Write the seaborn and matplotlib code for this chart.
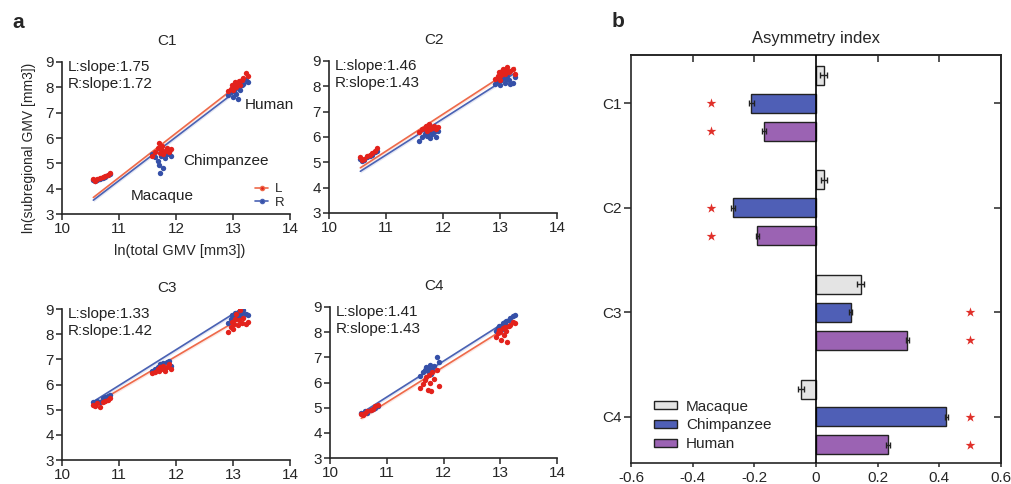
import numpy as np
import pandas as pd
import seaborn as sns
import matplotlib.pyplot as plt
from matplotlib.patches import Patch
from matplotlib.lines import Line2D

# ---- panel a : ln(total GMV) per subject, same for every component ----
total_gmv = [10.55, 10.58, 10.62, 10.66, 10.72, 10.76, 10.80, 10.84,
             11.58, 11.64, 11.68, 11.70, 11.72, 11.74, 11.76, 11.78, 11.80, 11.84, 11.88, 11.92,
             12.92, 12.96, 12.98, 13.00, 13.02, 13.04, 13.06, 13.08, 13.10, 13.12, 13.15, 13.18, 13.22, 13.26]

# ln(subregional GMV), left / right hemisphere
c1_left = [4.38, 4.32, 4.40, 4.42, 4.45, 4.50, 4.55, 4.62,
           5.30, 5.45, 5.60, 5.80, 5.40, 5.55, 5.70, 5.35, 5.50, 5.62, 5.45, 5.55,
           7.85, 7.95, 8.10, 7.90, 8.05, 8.20, 8.00, 8.15, 8.25, 8.10, 8.30, 8.35, 8.55, 8.45]
c1_right = [4.35, 4.30, 4.36, 4.40, 4.42, 4.46, 4.52, 4.56,
            5.35, 5.25, 5.10, 4.95, 4.60, 5.30, 5.40, 4.80, 5.20, 5.35, 5.45, 5.30,
            7.70, 7.80, 7.95, 7.60, 7.85, 8.00, 7.75, 7.55, 8.05, 7.90, 8.10, 8.15, 8.30, 8.20]
c2_left = [5.20, 5.10, 5.15, 5.25, 5.30, 5.35, 5.45, 5.55,
           6.20, 6.30, 6.35, 6.45, 6.25, 6.40, 6.50, 6.30, 6.35, 6.45, 6.30, 6.40,
           8.30, 8.40, 8.55, 8.25, 8.45, 8.60, 8.70, 8.50, 8.65, 8.75, 8.55, 8.60, 8.70, 8.50]
c2_right = [5.15, 5.05, 5.10, 5.20, 5.25, 5.30, 5.40, 5.45,
            5.85, 6.00, 6.10, 6.20, 6.05, 6.15, 6.25, 5.95, 6.10, 6.20, 6.00, 6.25,
            8.10, 8.20, 8.30, 8.05, 8.25, 8.35, 8.45, 8.15, 8.30, 8.40, 8.25, 8.10, 8.15, 8.35]
c3_left = [5.20, 5.15, 5.25, 5.10, 5.30, 5.35, 5.40, 5.45,
           6.45, 6.50, 6.60, 6.55, 6.70, 6.60, 6.65, 6.75, 6.55, 6.70, 6.80, 6.60,
           8.10, 8.30, 8.50, 8.20, 8.40, 8.60, 8.80, 8.35, 8.55, 8.95, 8.45, 8.65, 8.40, 8.50]
c3_right = [5.30, 5.25, 5.35, 5.30, 5.45, 5.50, 5.55, 5.60,
            6.55, 6.60, 6.70, 6.65, 6.80, 6.75, 6.70, 6.85, 6.65, 6.90, 6.95, 6.75,
            8.45, 8.60, 8.75, 8.55, 8.70, 8.85, 8.65, 8.80, 8.90, 8.70, 8.85, 8.95, 8.80, 8.75]
c4_left = [4.75, 4.70, 4.80, 4.85, 4.90, 4.95, 5.05, 5.10,
           5.80, 5.95, 6.10, 6.20, 5.70, 6.30, 6.00, 5.65, 6.40, 6.15, 6.50, 5.85,
           7.80, 7.95, 8.10, 8.00, 7.70, 8.15, 7.90, 8.20, 8.05, 7.60, 8.25, 8.30, 8.40, 8.35]
c4_right = [4.80, 4.75, 4.85, 4.80, 4.90, 4.95, 5.00, 5.05,
            6.25, 6.40, 6.50, 6.60, 6.45, 6.55, 6.70, 6.35, 6.50, 6.65, 7.00, 6.80,
            8.05, 8.15, 8.25, 8.20, 8.10, 8.35, 8.30, 8.40, 8.45, 8.25, 8.50, 8.55, 8.65, 8.70]

components = ['C1', 'C2', 'C3', 'C4']
slope_left = [1.75, 1.46, 1.33, 1.41]
slope_right = [1.72, 1.43, 1.42, 1.43]
intercept_left = [-14.81, -10.62, -8.84, -10.30]
intercept_right = [-14.60, -10.44, -9.66, -10.31]

# ---- panel b : asymmetry index ----
species = ['Macaque', 'Chimpanzee', 'Human']
ai_macaque = [0.025, 0.025, 0.145, -0.048]
ai_chimp = [-0.21, -0.27, 0.113, 0.423]
ai_human = [-0.168, -0.19, 0.296, 0.233]
se_macaque = [0.012, 0.010, 0.012, 0.010]
se_chimp = [0.008, 0.006, 0.005, 0.006]
se_human = [0.006, 0.006, 0.005, 0.006]
sig_macaque = [False, False, False, False]
sig_chimp = [True, True, True, True]
sig_human = [True, True, True, True]
star_x = [-0.34, -0.34, 0.5, 0.5]

sns.set_theme(style='ticks')
plt.rcParams['font.family'] = ['Liberation Sans', 'DejaVu Sans']
plt.rcParams['axes.linewidth'] = 1.2

red_pt, red_ln = '#e3221c', '#ee6a4a'
blue_pt, blue_ln = '#3550a8', '#4a62b4'

fig = plt.figure(figsize=(10.12, 4.84), dpi=100)
W, H = 1012, 484

def px_axes(left, top, right, bottom):
    return fig.add_axes([left / W, 1 - bottom / H, (right - left) / W, (bottom - top) / H])

boxes = [(62, 62, 290, 214), (329, 61, 557, 213), (62, 309, 290, 460), (330, 307, 557, 458)]
lefts = [c1_left, c2_left, c3_left, c4_left]
rights = [c1_right, c2_right, c3_right, c4_right]

x_arr = np.array(total_gmv)
x_line = np.array([x_arr.min(), x_arr.max()])
for i, box in enumerate(boxes):
    ax = px_axes(*box)
    df = pd.DataFrame({'x': total_gmv, 'L': lefts[i], 'R': rights[i]})
    sns.scatterplot(data=df, x='x', y='R', color=blue_pt, s=15, linewidth=0, ax=ax, zorder=3)
    sns.scatterplot(data=df, x='x', y='L', color=red_pt, s=15, linewidth=0, ax=ax, zorder=3)
    for b, a, c in [(slope_left[i], intercept_left[i], red_ln), (slope_right[i], intercept_right[i], blue_ln)]:
        y_line = a + b * x_line
        ax.fill_between(x_line, y_line - 0.07, y_line + 0.07, color=c, alpha=0.15, lw=0)
        ax.plot(x_line, y_line, color=c, lw=1.2, zorder=2)
    ax.set_xlim(10, 14)
    ax.set_ylim(3, 9)
    ax.set_xticks(range(10, 15))
    ax.set_yticks(range(3, 10))
    ax.set_xlabel('')
    ax.set_ylabel('')
    sns.despine(ax=ax)
    ax.tick_params(direction='out', length=4, width=1.1, labelsize=11, pad=2)
    ax.set_title(components[i], fontsize=11, x=0.46, pad=12)
    ax.text(0.025, 1.01, f'L:slope:{slope_left[i]:.2f}\nR:slope:{slope_right[i]:.2f}',
            transform=ax.transAxes, va='top', ha='left', fontsize=11, color='#222222')
    if i == 0:
        ax.text(13.21, 7.30, 'Human', fontsize=11, va='center', color='#222222')
        ax.text(12.12, 5.09, 'Chimpanzee', fontsize=11, va='center', color='#222222')
        ax.text(11.21, 3.71, 'Macaque', fontsize=11, va='center', color='#222222')
        handles = [Line2D([], [], color=red_ln, marker='o', markersize=3, markerfacecolor=red_pt, lw=1.2),
                   Line2D([], [], color=blue_ln, marker='o', markersize=3, markerfacecolor=blue_pt, lw=1.2)]
        ax.legend(handles, ['L', 'R'], loc='lower right', bbox_to_anchor=(1.0, 0.0), frameon=False,
                  fontsize=9.5, handlelength=1.0, handletextpad=0.5, labelspacing=0.1,
                  borderpad=0.2, borderaxespad=0.2)

fig.text(29 / W, 1 - 148 / H, 'ln(subregional GMV [mm3])', rotation=90, ha='center', va='center', fontsize=10)
fig.text(180 / W, 1 - 251 / H, 'ln(total GMV [mm3])', ha='center', va='center', fontsize=10.5)
fig.text(12 / W, 1 - 28 / H, 'a', fontsize=15, fontweight='bold')
fig.text(612 / W, 1 - 27 / H, 'b', fontsize=15, fontweight='bold')

# ---- panel b ----
axb = px_axes(631, 55, 1001, 463)
bar_df = pd.DataFrame({
    'component': components * 3,
    'species': [s for s in species for _ in components],
    'ai': ai_macaque + ai_chimp + ai_human,
})
palette = {'Macaque': '#e4e4e4', 'Chimpanzee': '#4f5fb6', 'Human': '#9b63b3'}
sns.barplot(data=bar_df, x='ai', y='component', hue='species', hue_order=species, order=components,
            palette=palette, orient='h', errorbar=None, gap=0.32, saturation=1,
            edgecolor='#222222', linewidth=1, legend=False, ax=axb)

for cont, vals, errs, sigs in zip(axb.containers, [ai_macaque, ai_chimp, ai_human],
                                  [se_macaque, se_chimp, se_human], [sig_macaque, sig_chimp, sig_human]):
    ys = [bar.get_y() + bar.get_height() / 2 for bar in cont]
    axb.errorbar(vals, ys, xerr=errs, fmt='none', ecolor='#222222', elinewidth=1, capsize=2.5, zorder=4)
    for k, y in enumerate(ys):
        if sigs[k]:
            axb.scatter(star_x[k], y, marker='*', s=55, color='#e0302a', linewidth=0, zorder=5)

axb.axvline(0, color='black', lw=1.2, zorder=3)
axb.set_xlim(-0.6, 0.6)
axb.set_ylim(3.44, -0.46)
axb.set_xticks([-0.6, -0.4, -0.2, 0, 0.2, 0.4, 0.6])
axb.set_xticklabels(['-0.6', '-0.4', '-0.2', '0', '0.2', '0.4', '0.6'])
axb.set_xlabel('')
axb.set_ylabel('')
axb.tick_params(axis='x', direction='out', length=3, width=1.1, labelsize=11, pad=3)
axb.tick_params(axis='y', direction='out', length=5, width=1.1, labelsize=11, pad=2)
secx = axb.secondary_xaxis('top')
secx.set_xticks([-0.4, -0.2, 0.2, 0.4])
secx.tick_params(direction='in', length=5, width=1.1, labeltop=False)
secy = axb.secondary_yaxis('right')
secy.set_yticks(range(len(components)))
secy.tick_params(direction='in', length=5, width=1.1, labelright=False)
axb.set_title('Asymmetry index', fontsize=12, pad=9)

leg_handles = [Patch(facecolor=palette[s], edgecolor='#222222', linewidth=1) for s in species]
axb.legend(leg_handles, species, loc='lower left', bbox_to_anchor=(0.025, -0.005), frameon=False,
           fontsize=11, handlelength=1.5, handleheight=0.5, handletextpad=0.6, labelspacing=0.32)

fig.savefig('out.png', dpi=100)
